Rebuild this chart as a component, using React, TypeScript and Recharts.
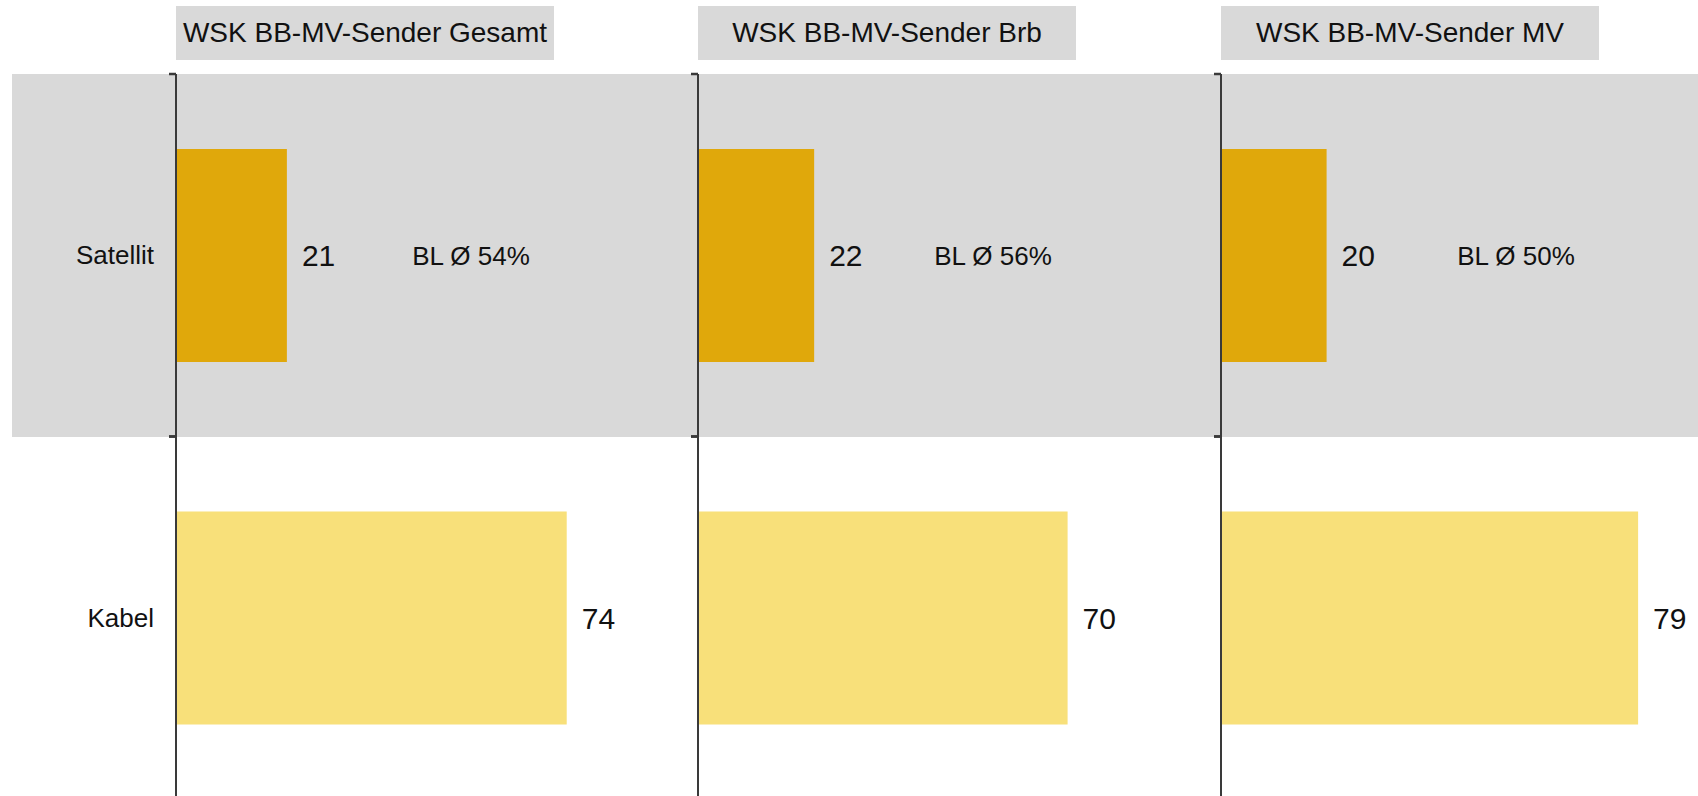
import { BarChart, Bar, XAxis, YAxis, Cell, LabelList } from "recharts";

const PANELS = ["WSK BB-MV-Sender Gesamt", "WSK BB-MV-Sender Brb", "WSK BB-MV-Sender MV"];
const CATEGORIES = ["Satellit", "Kabel"];
const SATELLIT = [21, 22, 20];
const KABEL = [74, 70, 79];
const BL_AVG = [54, 56, 50];

const BAR_COLORS = ["#E0A80B", "#F8E07A"];
const BAND_GRAY = "#D9D9D9";
const AXIS_COLOR = "#3a3a3a";
const FONT = "'Liberation Sans', Arial, Helvetica, sans-serif";

// layout
const AXIS_X = [176, 698, 1221];
const Y_W = 176;
const PLOT_W = 528;
const PLOT_TOP = 74;
const PLOT_H = 725;
const MARGIN_TOP = 10;
const BAND = PLOT_H / CATEGORIES.length;

// eslint-disable-next-line @typescript-eslint/no-explicit-any
function CategoryTick({ x, y, payload, showLabel }: any) {
  return (
    <g>
      <line x1={x - 7} y1={y - BAND / 2} x2={x} y2={y - BAND / 2} stroke={AXIS_COLOR} strokeWidth={2.5} />
      <line x1={x - 7} y1={y + BAND / 2} x2={x} y2={y + BAND / 2} stroke={AXIS_COLOR} strokeWidth={2.5} />
      {showLabel && (
        <text x={x - 22} y={y} dy="0.35em" textAnchor="end" fontSize={26} fill="#111" fontFamily={FONT}>
          {payload.value}
        </text>
      )}
    </g>
  );
}

// eslint-disable-next-line @typescript-eslint/no-explicit-any
function BlLabel(props: any) {
  const { viewBox, value } = props;
  if (value == null || !viewBox) return null;
  return (
    <text
      x={viewBox.x + 295}
      y={viewBox.y + viewBox.height / 2}
      dy="0.35em"
      textAnchor="middle"
      fontSize={26}
      fill="#111"
      fontFamily={FONT}
    >
      {`BL Ø ${value}%`}
    </text>
  );
}

function Panel({ index }: { index: number }) {
  const data = CATEGORIES.map((c, i) => ({
    name: c,
    value: i === 0 ? SATELLIT[index] : KABEL[index],
    bl: i === 0 ? BL_AVG[index] : null,
  }));
  return (
    <BarChart
      layout="vertical"
      width={Y_W + PLOT_W}
      height={PLOT_H + MARGIN_TOP}
      data={data}
      margin={{ top: MARGIN_TOP, right: 0, bottom: 0, left: 0 }}
      style={{ position: "absolute", left: AXIS_X[index] - Y_W, top: PLOT_TOP - MARGIN_TOP }}
    >
      <XAxis type="number" domain={[0, 100]} hide />
      <Bar dataKey="value" barSize={213} isAnimationActive={false}>
        {data.map((_, i) => (
          <Cell key={i} fill={BAR_COLORS[i]} />
        ))}
        <LabelList
          dataKey="value"
          position="right"
          offset={15}
          fontSize={30}
          fill="#111"
          fontFamily={FONT}
        />
        <LabelList dataKey="bl" content={<BlLabel />} />
      </Bar>
      <YAxis
        type="category"
        dataKey="name"
        width={Y_W}
        axisLine={{ stroke: AXIS_COLOR, strokeWidth: 2 }}
        tickLine={false}
        tickSize={0}
        tickMargin={0}
        interval={0}
        tick={<CategoryTick showLabel={index === 0} />}
      />
    </BarChart>
  );
}

export default function App() {
  return (
    <div
      style={{
        position: "absolute",
        left: 0,
        top: 0,
        width: 1698,
        height: 796,
        overflow: "hidden",
        background: "#fff",
        fontFamily: FONT,
      }}
    >
      <div
        style={{
          position: "absolute",
          left: 12,
          top: PLOT_TOP,
          width: 1698 - 12,
          height: BAND,
          background: BAND_GRAY,
        }}
      />
      {PANELS.map((title, i) => (
        <div
          key={title}
          style={{
            position: "absolute",
            left: AXIS_X[i],
            top: 6,
            width: 378,
            height: 54,
            lineHeight: "54px",
            background: BAND_GRAY,
            textAlign: "center",
            fontSize: 28,
            color: "#111",
          }}
        >
          {title}
        </div>
      ))}
      {PANELS.map((_, i) => (
        <Panel key={i} index={i} />
      ))}
    </div>
  );
}
